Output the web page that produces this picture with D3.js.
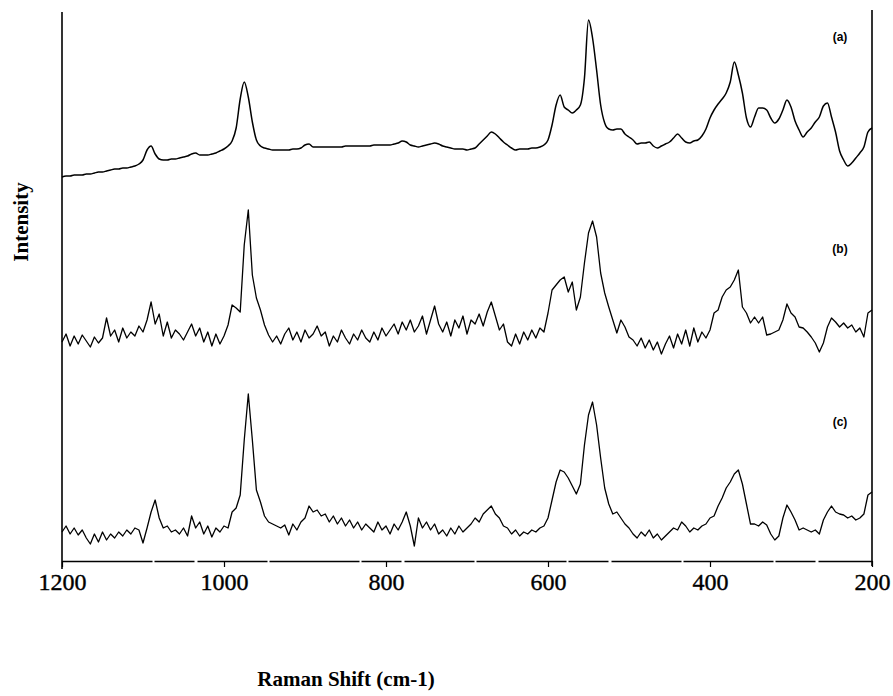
<!DOCTYPE html>
<html>
<head>
<meta charset="utf-8">
<script src="https://cdn.jsdelivr.net/npm/d3@7"></script>
<style>
  body { margin: 0; background: #fff; }
  svg { display: block; }
</style>
</head>
<body>
<div id="chart"></div>
<script>

// Raman shift grid: every 5 cm-1 from 1200 down to 200 (201 points)
var shift = d3.range(1200, 199, -5);

// intensities (arbitrary units), one value per grid point
var specA = [
  3,4,4,5,5,5,6,6,7,8,
  8,9,10,11,11,12,12,13,14,16,
  20,30,34,26,21,20,20,21,21,22,
  23,24,26,27,25,25,25,26,27,29,
  31,34,39,52,81,98,83,58,40,34,
  32,31,30,30,30,30,30,31,31,32,
  35,36,33,33,33,33,33,33,33,33,
  34,34,34,34,34,34,34,35,35,35,
  35,35,36,37,39,38,35,34,33,34,
  35,36,37,36,34,33,32,31,31,31,
  30,31,32,36,40,44,48,46,42,38,
  35,32,30,31,31,31,32,32,33,35,
  40,55,75,85,73,70,67,70,75,102,
  160,142,110,75,57,51,50,51,51,46,
  43,40,36,37,37,38,34,32,34,36,
  38,42,46,42,38,37,39,40,44,51,
  62,70,76,81,87,98,118,105,87,62,
  53,63,72,72,70,62,57,61,70,80,
  73,59,50,43,48,52,58,63,74,77,
  63,48,29,20,14,17,22,27,33,48,
  52
];

var specB = [
  8,16,4,14,6,15,9,3,13,7,
  12,32,14,20,8,22,12,18,14,24,
  18,30,48,26,36,14,28,12,20,16,
  10,18,26,14,22,8,18,4,16,6,
  14,25,45,42,38,105,140,75,52,40,
  25,15,8,14,6,16,22,10,18,8,
  20,12,16,24,14,18,4,14,8,20,
  12,6,16,10,20,12,8,18,10,22,
  14,20,26,16,28,20,30,18,24,34,
  16,30,44,26,18,28,14,30,22,34,
  16,30,26,36,24,38,48,34,20,26,
  8,4,16,6,18,10,20,12,22,18,
  37,60,65,70,73,58,68,40,53,87,
  117,129,113,77,57,43,30,17,30,23,
  13,10,4,12,2,10,0,8,-4,6,
  14,2,16,6,20,4,22,8,18,12,
  20,37,40,53,60,63,70,80,43,37,
  27,33,27,33,15,16,18,20,30,46,
  37,33,23,22,18,13,7,-2,7,23,
  32,28,23,27,22,25,18,22,13,37,
  40
];

var specC = [
  8,14,6,12,5,10,2,-4,6,-2,
  8,0,6,2,8,4,10,6,12,10,
  -3,12,28,40,22,12,14,8,10,6,
  12,4,24,12,18,6,14,3,12,8,
  14,12,28,32,45,100,146,100,50,38,
  24,18,16,14,12,15,5,16,10,18,
  22,34,28,30,24,26,18,24,16,22,
  14,20,12,18,10,16,12,8,18,10,
  14,6,16,10,18,28,14,-6,22,12,
  18,10,16,6,10,4,12,6,14,8,
  12,16,22,18,26,30,34,26,22,14,
  12,6,10,4,8,6,10,8,12,14,
  22,40,58,70,68,62,54,46,56,95,
  125,138,115,82,52,36,26,28,22,16,
  12,6,2,8,4,10,2,6,0,4,
  8,12,10,18,14,8,12,10,14,16,
  22,24,34,42,52,58,66,70,56,36,
  16,16,14,18,15,6,0,4,22,35,
  28,20,10,12,10,8,10,6,20,28,
  34,28,26,25,22,24,20,22,26,45,
  48
];

// each spectrum is stacked with a vertical offset
var series = [specA, specB, specC];
var offsets = [385, 215, 25];
var names = ["(a)", "(b)", "(c)"];
var nameLevel = [143, 101, 118];   // height of the (a)/(b)/(c) tag above its offset
var tickValues = [1200, 1000, 800, 600, 400, 200];

var width = 893, height = 696;

var svg = d3.select("#chart").append("svg")
    .attr("width", width)
    .attr("height", height);

var x = d3.scaleLinear().domain([1200, 200]).range([62, 872]);
var y = d3.scaleLinear().domain([0, 550]).range([565, 15]);

//Frame: left and right vertical lines
svg.append("line")
    .attr("x1", x(1200)).attr("x2", x(1200))
    .attr("y1", 12).attr("y2", 569)
    .attr("stroke", "#000").attr("stroke-width", 1.6);
svg.append("line")
    .attr("x1", x(200)).attr("x2", x(200))
    .attr("y1", 10).attr("y2", 566)
    .attr("stroke", "#000").attr("stroke-width", 1.6);

//Bottom axis
var xAxis = d3.axisBottom(x)
    .tickValues(tickValues)
    .tickSize(6)
    .tickSizeOuter(0)
    .tickPadding(6)
    .tickFormat(d3.format("d"));

var gx = svg.append("g")
    .attr("transform", "translate(0,561)")
    .call(xAxis);

gx.select(".domain")
    .attr("stroke-width", 1.4)
    .attr("stroke-dasharray", "90,2,40,3,70,2");
gx.selectAll(".tick line").attr("stroke-width", 1.2);
gx.selectAll(".tick text")
    .attr("font-family", "'Liberation Serif', 'Times New Roman', serif")
    .attr("font-size", 24)
    .attr("fill", "#000")
    .attr("stroke", "#000")
    .attr("stroke-width", 0.4);

//Spectra
var line = d3.line()
    .x((d, i) => x(shift[i]))
    .y(d => d);

series.forEach((s, j) => {
    var pts = s.map(v => y(v + offsets[j]));
    svg.append("path")
        .datum(pts)
        .attr("fill", "none")
        .attr("stroke", "#000")
        .attr("stroke-width", j == 0 ? 1.5 : 1.3)
        .attr("stroke-linejoin", "round")
        .attr("d", j == 0 ? line.curve(d3.curveMonotoneX)(pts) : line.curve(d3.curveLinear)(pts));

    svg.append("text")
        .attr("x", 840)
        .attr("y", y(offsets[j] + nameLevel[j]))
        .attr("dy", "0.35em")
        .attr("text-anchor", "middle")
        .attr("font-family", "'Liberation Sans', Arial, sans-serif")
        .attr("font-weight", "bold")
        .attr("font-size", 12)
        .text(names[j]);
});

//Axis titles
svg.append("text")
    .attr("x", 346)
    .attr("y", 686)
    .attr("text-anchor", "middle")
    .attr("font-family", "'Liberation Serif', 'Times New Roman', serif")
    .attr("font-weight", "bold")
    .attr("font-size", 21)
    .text("Raman Shift (cm-1)");

svg.append("text")
    .attr("transform", "translate(28,222) rotate(-90)")
    .attr("text-anchor", "middle")
    .attr("font-family", "'Liberation Serif', 'Times New Roman', serif")
    .attr("font-weight", "bold")
    .attr("font-size", 21)
    .text("Intensity");

</script>
</body>
</html>
